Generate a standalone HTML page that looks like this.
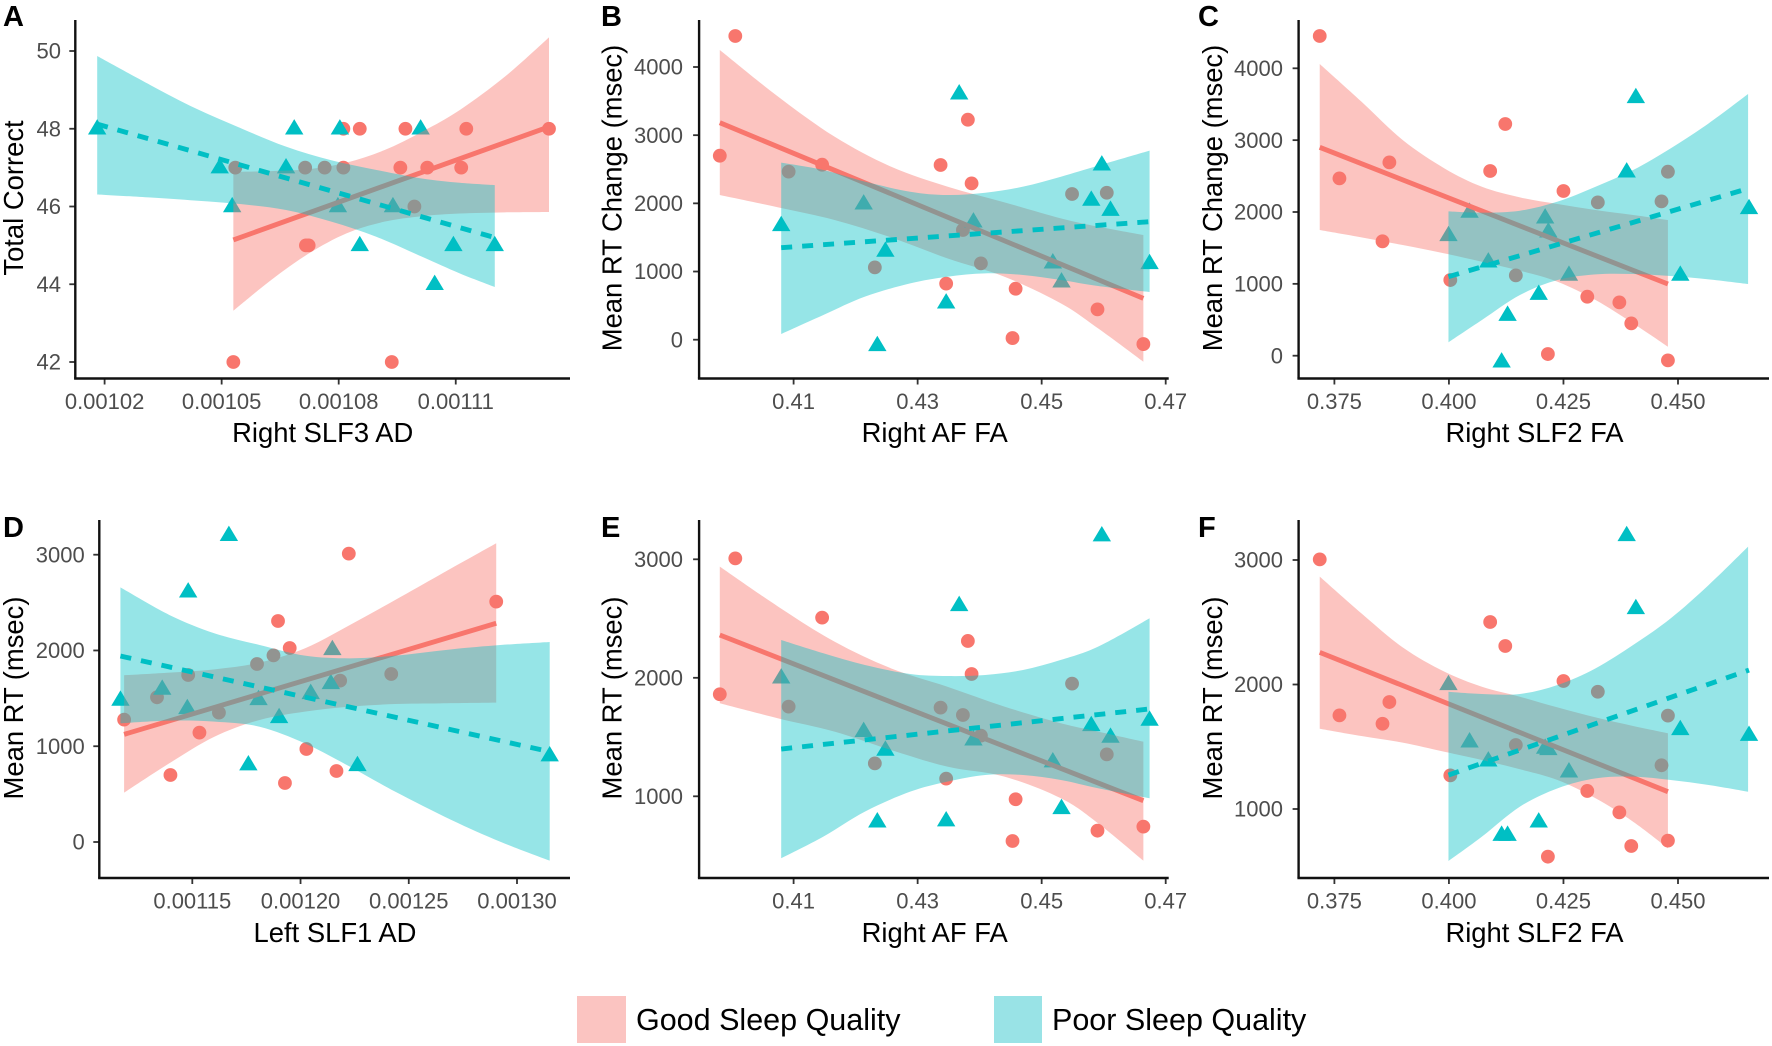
<!DOCTYPE html>
<html lang="en">
<head>
<meta charset="utf-8">
<title>Sleep quality and white matter regression panels</title>
<style>
html,body{margin:0;padding:0;background:#fff;}
svg{display:block;font-family:"Liberation Sans",Arial,sans-serif;}
.title{font-size:27.4px;fill:#000;}
.letter{font-size:29px;font-weight:bold;fill:#000;}
.legend-label{font-size:30.5px;fill:#000;}
.tick-label{font-size:22px;fill:#4d4d4d;}
</style>
</head>
<body>
<svg id="figure" width="1772" height="1046" viewBox="0 0 1772 1046" xmlns="http://www.w3.org/2000/svg">
  <rect x="0" y="0" width="1772" height="1046" fill="#ffffff"/>
  <g id="panels"></g>

  <text class="letter" x="3" y="26">A</text>
  <text class="letter" x="601" y="26">B</text>
  <text class="letter" x="1198" y="26">C</text>
  <text class="letter" x="3" y="537">D</text>
  <text class="letter" x="601" y="537">E</text>
  <text class="letter" x="1198" y="537">F</text>

  <text class="title" x="322.7" y="442" text-anchor="middle">Right SLF3 AD</text>
  <text class="title" x="934.7" y="442" text-anchor="middle">Right AF FA</text>
  <text class="title" x="1534.5" y="442" text-anchor="middle">Right SLF2 FA</text>
  <text class="title" x="335" y="942" text-anchor="middle">Left SLF1 AD</text>
  <text class="title" x="934.7" y="942" text-anchor="middle">Right AF FA</text>
  <text class="title" x="1534.5" y="942" text-anchor="middle">Right SLF2 FA</text>

  <text class="title" transform="translate(23 198) rotate(-90)" text-anchor="middle">Total Correct</text>
  <text class="title" transform="translate(621.5 198) rotate(-90)" text-anchor="middle">Mean RT Change (msec)</text>
  <text class="title" transform="translate(1222 198) rotate(-90)" text-anchor="middle">Mean RT Change (msec)</text>
  <text class="title" transform="translate(23 698) rotate(-90)" text-anchor="middle">Mean RT (msec)</text>
  <text class="title" transform="translate(621.5 698) rotate(-90)" text-anchor="middle">Mean RT (msec)</text>
  <text class="title" transform="translate(1222 698) rotate(-90)" text-anchor="middle">Mean RT (msec)</text>

  <g>
    <rect x="577" y="996" width="49" height="47" fill="#fbc4c1"/>
    <text class="legend-label" x="636" y="1030">Good Sleep Quality</text>
    <rect x="994" y="996" width="48" height="47" fill="#99e3e6"/>
    <text class="legend-label" x="1052" y="1030">Poor Sleep Quality</text>
  </g>
</svg>

<script>
/* ---------- Panel A ---------- */
var aXTicks = [0.00102, 0.00105, 0.00108, 0.00111];
var aXTickLabels = ["0.00102", "0.00105", "0.00108", "0.00111"];
var aYTicks = [42, 44, 46, 48, 50];
var aYTickLabels = ["42", "44", "46", "48", "50"];
var aGoodX = [0.0010812,0.0010854,0.0010971,0.0011127,0.0011339,0.0010535,0.0010714,0.0010764,0.0010812,0.0010958,0.0011027,0.0011114,0.0010994,0.0010716,0.0010723,0.001053,0.0010936];
var aGoodY = [48,48,48,48,48,47,47,47,47,47,47,47,46,45,45,42,42];
var aPoorX = [0.0010181,0.0010686,0.0010803,0.001101,0.0010495,0.0010665,0.0010527,0.0010798,0.0010939,0.0010854,0.0011094,0.00112,0.0011046];
var aPoorY = [48,48,48,48,47,47,46,46,46,45,45,45,44];
var aGoodLineX = [0.001053, 0.0011339];
var aGoodLineY = [45.14, 48.05];
var aPoorLineX = [0.0010181, 0.00112];
var aPoorLineY = [48.12, 45.2];
var aGoodBandX = [0.001053,0.0010627,0.0010723,0.001082,0.0010917,0.0011013,0.001111,0.0011226,0.0011339];
var aGoodBandHi = [46.89,46.91,46.96,47.13,47.45,47.92,48.48,49.34,50.35];
var aGoodBandLo = [43.32,44.11,44.79,45.31,45.61,45.75,45.82,45.85,45.86];
var aPoorBandX = [0.0010181,0.0010318,0.0010434,0.001055,0.0010665,0.0010781,0.0010897,0.0011013,0.001111,0.00112];
var aPoorBandHi = [49.87,49.12,48.52,48.01,47.54,47.19,46.94,46.72,46.61,46.55];
var aPoorBandLo = [46.31,46.23,46.15,46.06,45.91,45.61,45.22,44.71,44.28,43.93];

/* ---------- Panels B and E share the Right AF FA predictor ---------- */
var afXTicks = [0.41, 0.43, 0.45, 0.47];
var afXTickLabels = ["0.41", "0.43", "0.45", "0.47"];
var afGoodX = [0.3981,0.4006,0.4092,0.4146,0.4231,0.4337,0.4346,0.4373,0.4381,0.4387,0.4402,0.4453,0.4458,0.4549,0.4590,0.4605,0.4664];
var afPoorX = [0.4367,0.4597,0.4580,0.4611,0.4390,0.4213,0.4080,0.4248,0.4518,0.4532,0.4674,0.4346,0.4235];
var afGoodBandX = [0.3981,0.4075,0.4166,0.4257,0.4348,0.4440,0.4531,0.4591,0.4664];
var afPoorBandX = [0.4080,0.4148,0.4215,0.4288,0.4348,0.4409,0.4470,0.4531,0.4591,0.4674];

var bYTicks = [0, 1000, 2000, 3000, 4000];
var bYTickLabels = ["0", "1000", "2000", "3000", "4000"];
var bGoodY = [2699,4455,2465,2567,1061,2562,822,1609,3227,2293,1120,24,748,2137,445,2156,-64];
var bPoorY = [3609,2567,2049,1902,1731,1995,1677,1301,1130,851,1120,543,-83];
var bGoodLineX = [0.3981, 0.4664];
var bGoodLineY = [3183, 606];
var bPoorLineX = [0.4080, 0.4674];
var bPoorLineY = [1350, 1731];
var bGoodBandHi = [4249,3565,2978,2538,2245,2015,1780,1658,1535];
var bGoodBandLo = [2122,1941,1756,1501,1193,924,533,166,-323];
var bPoorBandHi = [2597,2489,2318,2171,2122,2156,2245,2391,2553,2773];
var bPoorBandLo = [83,362,631,826,924,973,949,875,787,699];

var eYTicks = [1000, 2000, 3000];
var eYTickLabels = ["1000", "2000", "3000"];
var eGoodY = [1861,3008,1757,2508,1278,1748,1149,1686,2311,2032,1512,623,975,1951,710,1354,744];
var ePoorY = [2612,3200,1599,1501,1478,1549,2001,1391,1293,899,1644,795,786];
var eGoodLineX = [0.3981, 0.4664];
var eGoodLineY = [2361, 963];
var ePoorLineX = [0.4080, 0.4674];
var ePoorLineY = [1399, 1737];
var eGoodBandHi = [2938,2601,2305,2080,1925,1757,1616,1546,1461];
var eGoodBandLo = [1785,1658,1546,1391,1250,1166,983,772,457];
var ePoorBandHi = [2319,2207,2108,2032,2015,2024,2066,2151,2263,2502];
var ePoorBandLo = [477,660,871,1039,1124,1180,1180,1138,1068,983];

/* ---------- Panels C and F share the Right SLF2 FA predictor ---------- */
var slf2XTicks = [0.375, 0.400, 0.425, 0.450];
var slf2XTickLabels = ["0.375", "0.400", "0.425", "0.450"];
var slf2GoodX = [0.3718,0.3761,0.3855,0.3870,0.4003,0.4090,0.4123,0.4146,0.4216,0.4250,0.4302,0.4325,0.4372,0.4398,0.4464,0.4478,0.4478];
var slf2GoodBandX = [0.3718,0.3809,0.3899,0.3990,0.4072,0.4155,0.4237,0.4320,0.4402,0.4478];
var slf2PoorBandX = [0.3999,0.4072,0.4155,0.4237,0.4320,0.4402,0.4484,0.4567,0.4653];

var cYTicks = [0, 1000, 2000, 3000, 4000];
var cYTickLabels = ["0", "1000", "2000", "3000", "4000"];
var cGoodY = [4450,2468,1592,2691,1053,2571,3225,1118,23,2292,821,2134,742,450,2148,2561,-65];
var cPoorX = [0.4408,0.4388,0.4045,0.4210,0.4217,0.3999,0.4086,0.4262,0.4505,0.4655,0.4196,0.4128,0.4115];
var cPoorY = [3596,2561,2000,1921,1726,1675,1308,1123,1123,2051,858,566,-84];
var cGoodLineX = [0.3718, 0.4478];
var cGoodLineY = [2900, 998];
var cPoorLineX = [0.3999, 0.4655];
var cPoorLineY = [1100, 2330];
var cGoodBandHi = [4060,3536,3002,2608,2352,2204,2111,2028,1958,1888];
var cGoodBandLo = [1749,1647,1540,1424,1308,1183,1030,775,450,125];
var cPoorBandHi = [2009,1991,2018,2144,2352,2584,2886,3234,3642];
var cPoorBandLo = [186,496,844,1053,1132,1137,1109,1063,998];

var fYTicks = [1000, 2000, 3000];
var fYTickLabels = ["1000", "2000", "3000"];
var fGoodY = [3005,1752,1685,1859,1270,2502,2309,1514,617,2028,1145,1942,973,703,1351,1750,746];
var fPoorX = [0.4388,0.4408,0.3999,0.4505,0.4655,0.4045,0.4210,0.4217,0.4086,0.4262,0.4196,0.4128,0.4115];
var fPoorY = [3198,2612,2001,1640,1594,1541,1490,1479,1388,1300,898,791,791];
var fGoodLineX = [0.3718, 0.4478];
var fGoodLineY = [2258, 1139];
var fPoorLineX = [0.3999, 0.4655];
var fPoorLineY = [1273, 2116];
var fGoodBandHi = [2866,2571,2298,2103,1982,1902,1816,1736,1667,1608];
var fGoodBandLo = [1645,1586,1533,1460,1394,1319,1233,1086,898,684];
var fPoorBandHi = [1942,1924,1924,1996,2130,2317,2531,2799,3107];
var fPoorBandLo = [582,778,1019,1166,1246,1260,1233,1193,1139];

/* ---------- Panel D ---------- */
var dXTicks = [0.00115, 0.00120, 0.00125, 0.00130];
var dXTickLabels = ["0.00115", "0.00120", "0.00125", "0.00130"];
var dYTicks = [0, 1000, 2000, 3000];
var dYTickLabels = ["0", "1000", "2000", "3000"];
var dGoodX = [0.0011185,0.0011337,0.0011399,0.0011481,0.0011533,0.0011623,0.0011799,0.0011875,0.0011896,0.0011928,0.001195,0.0012027,0.0012166,0.0012183,0.0012223,0.0012419,0.0012904];
var dGoodY = [1278,1511,700,1744,1142,1351,1859,1949,2308,616,2026,971,741,1685,3011,1754,2510];
var dPoorX = [0.0011669,0.0011481,0.0011168,0.0011361,0.0011477,0.0011806,0.0011901,0.0011759,0.0012263,0.0012047,0.001214,0.0012147,0.0013151];
var dPoorY = [3203,2614,1483,1598,1396,1490,1302,808,801,1553,1657,2012,902];
var dGoodLineX = [0.0011185, 0.0012904];
var dGoodLineY = [1124, 2284];
var dPoorLineX = [0.0011168, 0.0013151];
var dPoorLineY = [1942, 943];
var dGoodBandX = [0.0011185,0.0011394,0.0011603,0.0011811,0.001202,0.0012228,0.0012437,0.0012645,0.0012904];
var dGoodBandHi = [1741,1768,1803,1873,2022,2266,2527,2792,3119];
var dGoodBandLo = [515,822,1100,1274,1361,1413,1441,1448,1455];
var dPoorBandX = [0.0011168,0.0011394,0.0011603,0.0011811,0.001202,0.0012228,0.0012437,0.0012697,0.0012923,0.0013151];
var dPoorBandHi = [2659,2371,2179,2057,1946,1918,1946,2012,2057,2089];
var dPoorBandLo = [1239,1267,1257,1204,1030,787,526,230,3,-195];

/* ---------- Panel wiring: data references plus axis geometry ---------- */
var panels = [
  {id:"a", left:75.3, right:570, top:20, bottom:378.5, labelEnd:61,
   xA:[0.00102,104.6], xB:[0.00108,338.7], yA:[50,51], yB:[42,362],
   xTicks:aXTicks, xLabels:aXTickLabels, yTicks:aYTicks, yLabels:aYTickLabels,
   goodX:aGoodX, goodY:aGoodY, poorX:aPoorX, poorY:aPoorY,
   goodLineX:aGoodLineX, goodLineY:aGoodLineY, poorLineX:aPoorLineX, poorLineY:aPoorLineY,
   goodBandX:aGoodBandX, goodBandHi:aGoodBandHi, goodBandLo:aGoodBandLo,
   poorBandX:aPoorBandX, poorBandHi:aPoorBandHi, poorBandLo:aPoorBandLo},
  {id:"b", left:699.1, right:1168.7, top:20, bottom:378.5, labelEnd:683,
   xA:[0.41,793.6], xB:[0.47,1165.7], yA:[4000,67], yB:[0,339.7],
   xTicks:afXTicks, xLabels:afXTickLabels, yTicks:bYTicks, yLabels:bYTickLabels,
   goodX:afGoodX, goodY:bGoodY, poorX:afPoorX, poorY:bPoorY,
   goodLineX:bGoodLineX, goodLineY:bGoodLineY, poorLineX:bPoorLineX, poorLineY:bPoorLineY,
   goodBandX:afGoodBandX, goodBandHi:bGoodBandHi, goodBandLo:bGoodBandLo,
   poorBandX:afPoorBandX, poorBandHi:bPoorBandHi, poorBandLo:bPoorBandLo},
  {id:"c", left:1298.6, right:1769, top:20, bottom:378.5, labelEnd:1283,
   xA:[0.375,1334.4], xB:[0.450,1678], yA:[4000,68.3], yB:[0,355.7],
   xTicks:slf2XTicks, xLabels:slf2XTickLabels, yTicks:cYTicks, yLabels:cYTickLabels,
   goodX:slf2GoodX, goodY:cGoodY, poorX:cPoorX, poorY:cPoorY,
   goodLineX:cGoodLineX, goodLineY:cGoodLineY, poorLineX:cPoorLineX, poorLineY:cPoorLineY,
   goodBandX:slf2GoodBandX, goodBandHi:cGoodBandHi, goodBandLo:cGoodBandLo,
   poorBandX:slf2PoorBandX, poorBandHi:cPoorBandHi, poorBandLo:cPoorBandLo},
  {id:"d", left:99.3, right:570, top:520, bottom:878, labelEnd:84.7,
   xA:[0.00115,192.3], xB:[0.00130,517], yA:[3000,554.7], yB:[0,842],
   xTicks:dXTicks, xLabels:dXTickLabels, yTicks:dYTicks, yLabels:dYTickLabels,
   goodX:dGoodX, goodY:dGoodY, poorX:dPoorX, poorY:dPoorY,
   goodLineX:dGoodLineX, goodLineY:dGoodLineY, poorLineX:dPoorLineX, poorLineY:dPoorLineY,
   goodBandX:dGoodBandX, goodBandHi:dGoodBandHi, goodBandLo:dGoodBandLo,
   poorBandX:dPoorBandX, poorBandHi:dPoorBandHi, poorBandLo:dPoorBandLo},
  {id:"e", left:699.1, right:1168.7, top:520, bottom:878, labelEnd:683,
   xA:[0.41,793.6], xB:[0.47,1165.7], yA:[3000,559.3], yB:[1000,796.3],
   xTicks:afXTicks, xLabels:afXTickLabels, yTicks:eYTicks, yLabels:eYTickLabels,
   goodX:afGoodX, goodY:eGoodY, poorX:afPoorX, poorY:ePoorY,
   goodLineX:eGoodLineX, goodLineY:eGoodLineY, poorLineX:ePoorLineX, poorLineY:ePoorLineY,
   goodBandX:afGoodBandX, goodBandHi:eGoodBandHi, goodBandLo:eGoodBandLo,
   poorBandX:afPoorBandX, poorBandHi:ePoorBandHi, poorBandLo:ePoorBandLo},
  {id:"f", left:1298.6, right:1769, top:520, bottom:878, labelEnd:1283,
   xA:[0.375,1334.4], xB:[0.450,1678], yA:[3000,560], yB:[1000,809],
   xTicks:slf2XTicks, xLabels:slf2XTickLabels, yTicks:fYTicks, yLabels:fYTickLabels,
   goodX:slf2GoodX, goodY:fGoodY, poorX:fPoorX, poorY:fPoorY,
   goodLineX:fGoodLineX, goodLineY:fGoodLineY, poorLineX:fPoorLineX, poorLineY:fPoorLineY,
   goodBandX:slf2GoodBandX, goodBandHi:fGoodBandHi, goodBandLo:fGoodBandLo,
   poorBandX:slf2PoorBandX, poorBandHi:fPoorBandHi, poorBandLo:fPoorBandLo}
];

var SVG_NS = "http://www.w3.org/2000/svg";
var GOOD = "#f8766d";
var POOR = "#00bfc4";

function linearScale(a, b) {
  return function (v) { return a[1] + (v - a[0]) * (b[1] - a[1]) / (b[0] - a[0]); };
}

/* Smooth curve through ribbon samples (Catmull-Rom); `move` starts a new subpath. */
function curveThrough(pts, move) {
  var d = (move ? "M" : "L") + pts[0][0].toFixed(2) + " " + pts[0][1].toFixed(2);
  for (var i = 0; i < pts.length - 1; i++) {
    var p0 = pts[Math.max(i - 1, 0)], p1 = pts[i], p2 = pts[i + 1], p3 = pts[Math.min(i + 2, pts.length - 1)];
    d += "C" + (p1[0] + (p2[0] - p0[0]) / 6).toFixed(2) + " " + (p1[1] + (p2[1] - p0[1]) / 6).toFixed(2) +
         " " + (p2[0] - (p3[0] - p1[0]) / 6).toFixed(2) + " " + (p2[1] - (p3[1] - p1[1]) / 6).toFixed(2) +
         " " + p2[0].toFixed(2) + " " + p2[1].toFixed(2);
  }
  return d;
}

function ribbonPath(xs, hi, lo, sx, sy) {
  var up = xs.map(function (x, i) { return [sx(x), sy(hi[i])]; });
  var down = xs.map(function (x, i) { return [sx(x), sy(lo[i])]; }).reverse();
  return curveThrough(up, true) + curveThrough(down, false) + "Z";
}

function drawPanel(p) {
  var sx = linearScale(p.xA, p.xB);
  var sy = linearScale(p.yA, p.yB);
  var root = document.createElementNS(SVG_NS, "g");
  
  
  document.getElementById("panels").appendChild(root);

  /* points sit beneath both ribbons */
  p.goodX.forEach(function (x, i) {
    var c = document.createElementNS(SVG_NS, "circle");
    
    
    c.setAttribute("cx", sx(x));
    c.setAttribute("cy", sy(p.goodY[i]));
    c.setAttribute("r", 6.9);
    c.setAttribute("fill", GOOD);
    root.appendChild(c);
  });
  p.poorX.forEach(function (x, i) {
    var px = sx(x), py = sy(p.poorY[i]);
    var t = document.createElementNS(SVG_NS, "polygon");
    
    
    t.setAttribute("points", px + "," + (py - 9.6) + " " + (px + 9.2) + "," + (py + 5.8) + " " + (px - 9.2) + "," + (py + 5.8));
    t.setAttribute("fill", POOR);
    root.appendChild(t);
  });

  /* good sleep ribbon and fit */
  var goodBand = document.createElementNS(SVG_NS, "path");
  
  
  goodBand.setAttribute("d", ribbonPath(p.goodBandX, p.goodBandHi, p.goodBandLo, sx, sy));
  goodBand.setAttribute("fill", GOOD);
  goodBand.setAttribute("fill-opacity", "0.43");
  root.appendChild(goodBand);

  var goodLine = document.createElementNS(SVG_NS, "line");
  
  
  goodLine.setAttribute("x1", sx(p.goodLineX[0]));
  goodLine.setAttribute("y1", sy(p.goodLineY[0]));
  goodLine.setAttribute("x2", sx(p.goodLineX[1]));
  goodLine.setAttribute("y2", sy(p.goodLineY[1]));
  goodLine.setAttribute("stroke", GOOD);
  goodLine.setAttribute("stroke-width", "4.9");
  root.appendChild(goodLine);

  /* poor sleep ribbon and fit */
  var poorBand = document.createElementNS(SVG_NS, "path");
  
  
  poorBand.setAttribute("d", ribbonPath(p.poorBandX, p.poorBandHi, p.poorBandLo, sx, sy));
  poorBand.setAttribute("fill", POOR);
  poorBand.setAttribute("fill-opacity", "0.41");
  root.appendChild(poorBand);

  var poorLine = document.createElementNS(SVG_NS, "line");
  
  
  poorLine.setAttribute("x1", sx(p.poorLineX[0]));
  poorLine.setAttribute("y1", sy(p.poorLineY[0]));
  poorLine.setAttribute("x2", sx(p.poorLineX[1]));
  poorLine.setAttribute("y2", sy(p.poorLineY[1]));
  poorLine.setAttribute("stroke", POOR);
  poorLine.setAttribute("stroke-width", "4.9");
  poorLine.setAttribute("stroke-dasharray", "11 10");
  root.appendChild(poorLine);

  /* axes */
  p.xTicks.forEach(function (v, i) {
    var tick = document.createElementNS(SVG_NS, "line");
    
    
    tick.setAttribute("x1", sx(v));
    tick.setAttribute("x2", sx(v));
    tick.setAttribute("y1", p.bottom);
    tick.setAttribute("y2", p.bottom + 6);
    tick.setAttribute("stroke", "#333333");
    tick.setAttribute("stroke-width", "1.8");
    root.appendChild(tick);
    var label = document.createElementNS(SVG_NS, "text");
    
    
    label.setAttribute("class", "tick-label");
    label.setAttribute("x", sx(v));
    label.setAttribute("y", p.bottom + 30.5);
    label.setAttribute("text-anchor", "middle");
    label.textContent = p.xLabels[i];
    root.appendChild(label);
  });
  p.yTicks.forEach(function (v, i) {
    var tick = document.createElementNS(SVG_NS, "line");
    
    
    tick.setAttribute("x1", p.left - 6);
    tick.setAttribute("x2", p.left);
    tick.setAttribute("y1", sy(v));
    tick.setAttribute("y2", sy(v));
    tick.setAttribute("stroke", "#333333");
    tick.setAttribute("stroke-width", "1.8");
    root.appendChild(tick);
    var label = document.createElementNS(SVG_NS, "text");
    
    
    label.setAttribute("class", "tick-label");
    label.setAttribute("x", p.labelEnd);
    label.setAttribute("y", sy(v) + 7.7);
    label.setAttribute("text-anchor", "end");
    label.textContent = p.yLabels[i];
    root.appendChild(label);
  });

  var xAxis = document.createElementNS(SVG_NS, "line");
  
  
  xAxis.setAttribute("x1", p.left - 1.2);
  xAxis.setAttribute("x2", p.right);
  xAxis.setAttribute("y1", p.bottom);
  xAxis.setAttribute("y2", p.bottom);
  xAxis.setAttribute("stroke", "#111111");
  xAxis.setAttribute("stroke-width", "2.4");
  root.appendChild(xAxis);

  var yAxis = document.createElementNS(SVG_NS, "line");
  
  
  yAxis.setAttribute("x1", p.left);
  yAxis.setAttribute("x2", p.left);
  yAxis.setAttribute("y1", p.top);
  yAxis.setAttribute("y2", p.bottom);
  yAxis.setAttribute("stroke", "#111111");
  yAxis.setAttribute("stroke-width", "2.4");
  root.appendChild(yAxis);
}

panels.forEach(drawPanel);
</script>
</body>
</html>
